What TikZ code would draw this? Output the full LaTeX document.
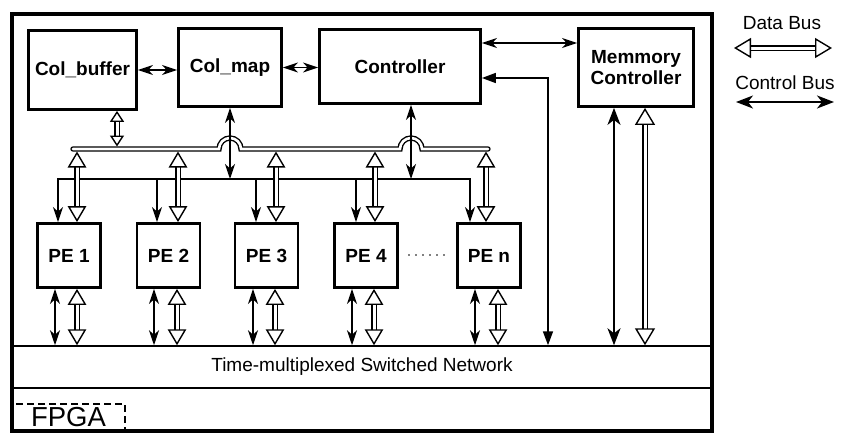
\documentclass[tikz,border=0pt]{standalone}
\usepackage{fontspec}
\setmainfont{Liberation Sans}
\usetikzlibrary{arrows.meta}
\tikzset{
  blk/.style={draw, line width=2.8pt, inner sep=0pt, align=center, font=\bfseries\fontsize{19}{21}\selectfont},
  pebox/.style={blk, minimum width=63pt, minimum height=64pt},
  plain/.style={font=\fontsize{19}{22}\selectfont},
  stl/.tip={Stealth[length=15pt,width=10pt,inset=4.5pt]},
  stlbig/.tip={Stealth[length=17pt,width=13pt,inset=5pt]},
  tri/.tip={Triangle[length=14pt,width=10pt]},
  otri/.tip={Triangle[open,length=16pt,width=18.5pt,line width=1.4pt]},
  otrismall/.tip={Triangle[open,length=11pt,width=14pt,line width=1.4pt]},
  otribig/.tip={Triangle[open,length=17pt,width=20pt,line width=1.4pt]},
  ctl/.style={line width=1.7pt, stl-stl},
  ctlbig/.style={line width=1.7pt, stlbig-stlbig},
  ctldown/.style={line width=1.7pt, -stl},
  ctltri/.style={line width=1.7pt, tri-tri},
  dat/.style={double, line width=1.4pt, double distance=3pt, otri-otri},
  datsmall/.style={double, line width=1.4pt, double distance=3pt, otrismall-otrismall},
  datbig/.style={double, line width=1.4pt, double distance=3pt, otribig-otribig},
  busline/.style={double, line width=1.4pt, double distance=2.6pt, line cap=round},
}
\begin{document}
\begin{tikzpicture}[x=1pt,y=-1pt]
\useasboundingbox (0,0) rectangle (847,447);
% outer FPGA frame
\node[draw, line width=4pt, minimum width=700pt, minimum height=417pt, inner sep=0pt] (fpga) at (362,222.5) {};
\node[draw, line width=1.5pt, minimum width=700pt, minimum height=42pt, inner sep=0pt, plain] (net) at (362,367) {Time-multiplexed Switched Network};
\node[draw, line width=1.3pt, dash pattern=on 7pt off 4pt, minimum width=113pt, minimum height=27pt, inner sep=0pt, font=\fontsize{27.5}{30}\selectfont] (fpgalbl) at (68.5,417.5) {FPGA};
% blocks
\node[blk, minimum width=108pt, minimum height=79pt] (colbuf) at (82.5,70) {Col\_buffer};
\node[blk, minimum width=103pt, minimum height=78pt] (colmap) at (230,67.5) {Col\_map};
\node[blk, minimum width=161pt, minimum height=74pt] (ctrl) at (400,66.5) {Controller};
\node[blk, minimum width=115pt, minimum height=78pt] (mem) at (636,67.5) {Memmory\\Controller};
\node[pebox] (pe1) at (69,255.5) {PE 1};
\node[pebox] (pe2) at (168.5,255.5) {PE 2};
\node[pebox] (pe3) at (266.5,255.5) {PE 3};
\node[pebox] (pe4) at (366,255.5) {PE 4};
\node[pebox] (pen) at (489,255.5) {PE n};
\coordinate (dotA) at (409,255);
\coordinate (dotB) at (445,255);
\draw[line width=1.8pt, line cap=round, dash pattern=on 0pt off 7pt] (dotA) -- (dotB);
% top connections
\draw[ctl] (colbuf.east) -- (colbuf.east -| colmap.west);
\draw[ctl] (colmap.east) -- (colmap.east -| ctrl.west);
\coordinate (y43) at (0,43);
\draw[ctl] (ctrl.east |- y43) -- (mem.west |- y43);
\coordinate (cn) at (548,78);
\draw[ctltri] (ctrl.east |- cn) -| (cn |- net.north);
% memory controller to network
\coordinate (mc) at (614,0);
\coordinate (md) at (645,0);
\draw[ctlbig] (mc |- mem.south) -- (mc |- net.north);
\draw[datbig] (md |- mem.south) -- (md |- net.north);
% control bus
\coordinate (cb1) at (58,179);
\coordinate (cb2) at (157,179);
\coordinate (cb3) at (256,179);
\coordinate (cb4) at (356,179);
\coordinate (cb5) at (470,179);
\draw[ctl, line join=miter] (cb1 |- pe1.north) -- (cb1) -- (cb5) -- (cb5 |- pen.north);
\draw[ctldown] (cb2) -- (cb2 |- pe2.north);
\draw[ctldown] (cb3) -- (cb3 |- pe3.north);
\draw[ctldown] (cb4) -- (cb4 |- pe4.north);
% data bus
\coordinate (busL) at (73,149);
\coordinate (busR) at (488,149);
\draw[busline] (busL) -- (219,149) arc[start angle=180,end angle=360,radius=11] -- (400,149) arc[start angle=180,end angle=360,radius=11] -- (busR);
\coordinate (ck) at (411,0);
\draw[ctl] (colmap.south) -- (colmap.south |- cb1);
\draw[ctl] (ck |- ctrl.south) -- (ck |- cb1);
\coordinate (db) at (117,146.5);
\draw[datsmall] (db |- colbuf.south) -- (db);
\coordinate (d1) at (77,151.5);
\coordinate (d2) at (178,151.5);
\coordinate (d3) at (276,151.5);
\coordinate (d4) at (375,151.5);
\coordinate (d5) at (486,151.5);
\draw[dat] (d1) -- (d1 |- pe1.north);
\draw[dat] (d2) -- (d2 |- pe2.north);
\draw[dat] (d3) -- (d3 |- pe3.north);
\draw[dat] (d4) -- (d4 |- pe4.north);
\draw[dat] (d5) -- (d5 |- pen.north);
% PE to network
\coordinate (bc1) at (55,0);  \coordinate (bd1) at (77,0);
\coordinate (bc2) at (154,0); \coordinate (bd2) at (177,0);
\coordinate (bc3) at (253,0); \coordinate (bd3) at (275,0);
\coordinate (bc4) at (352,0); \coordinate (bd4) at (374,0);
\coordinate (bc5) at (475,0); \coordinate (bd5) at (498,0);
\draw[ctl] (bc1 |- pe1.south) -- (bc1 |- net.north);
\draw[dat] (bd1 |- pe1.south) -- (bd1 |- net.north);
\draw[ctl] (bc2 |- pe2.south) -- (bc2 |- net.north);
\draw[dat] (bd2 |- pe2.south) -- (bd2 |- net.north);
\draw[ctl] (bc3 |- pe3.south) -- (bc3 |- net.north);
\draw[dat] (bd3 |- pe3.south) -- (bd3 |- net.north);
\draw[ctl] (bc4 |- pe4.south) -- (bc4 |- net.north);
\draw[dat] (bd4 |- pe4.south) -- (bd4 |- net.north);
\draw[ctl] (bc5 |- pen.south) -- (bc5 |- net.north);
\draw[dat] (bd5 |- pen.south) -- (bd5 |- net.north);
% legend
\node[plain] (ldata) at (782,23) {Data Bus};
\node[plain] (lctl) at (785,83) {Control Bus};
\coordinate (la1) at (734,48); \coordinate (la2) at (832,48);
\draw[datbig] (la1) -- (la2);
\coordinate (lc1) at (736,102); \coordinate (lc2) at (834,102);
\draw[ctlbig] (lc1) -- (lc2);
\end{tikzpicture}
\end{document}
